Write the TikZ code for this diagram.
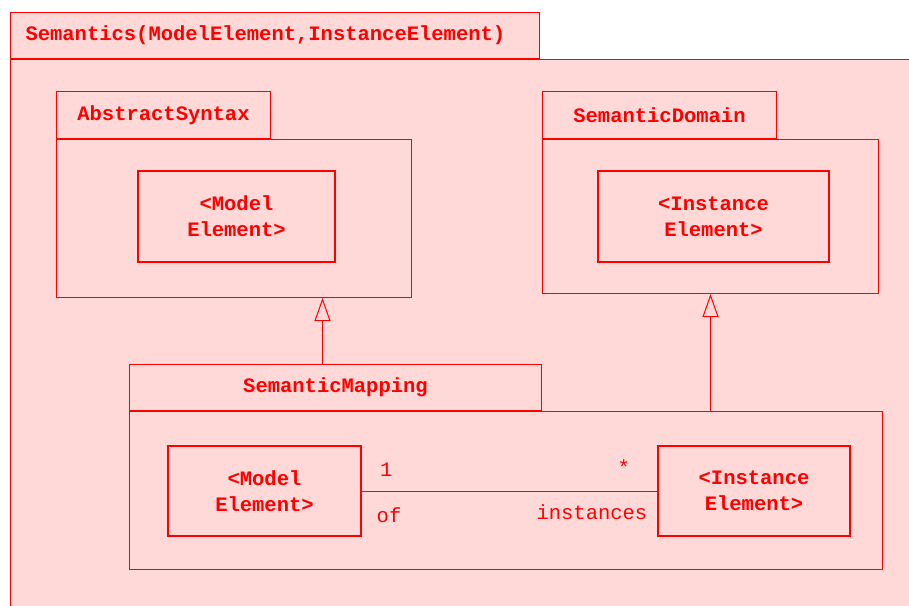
\documentclass[tikz,border=0pt]{standalone}
\usepackage{fontspec}
\setmonofont{Liberation Mono}
\usepackage{tikz}
\usetikzlibrary{positioning}
\usetikzlibrary{arrows.meta}
\definecolor{umlred}{HTML}{FF0000}
\definecolor{umlpink}{HTML}{FFD8D8}
\newcommand{\umlfont}{\ttfamily\fontsize{20.5}{26}\selectfont}
\tikzstyle{pkgtab} = [rectangle, draw=umlred, fill=umlpink, text=umlred,
    inner sep=0pt, minimum height=47pt, font=\umlfont\bfseries]
\tikzstyle{pkgbody} = [rectangle, draw=umlred, fill=umlpink, inner sep=0pt]
\tikzstyle{elem} = [rectangle, draw=umlred, fill=umlpink, text=umlred, line width=1.4pt,
    align=center, inner sep=0pt, minimum height=91pt, font=\umlfont\bfseries]
\tikzstyle{role} = [inner sep=0pt, text=umlred, font=\umlfont]
\tikzstyle{gen} = [draw=umlred, -{Triangle[open, length=23pt, width=16pt]}]
\tikzstyle{assoc} = [draw=umlred]

\begin{document}
\begin{tikzpicture}[x=1pt, y=-1pt, line width=1pt]
    \path[use as bounding box, clip] (0,0) rectangle (909,605);
        % Nodes
    \node [pkgtab, anchor=north west, minimum height=46pt, text width=499pt,
        inner xsep=15pt, align=left] (semTab) at (10,12) {Semantics(ModelElement,InstanceElement)};
    \node [pkgbody, below right=0pt and 0pt of semTab.south west,
        minimum width=950pt, minimum height=600pt] (semBody) {};
    \node [pkgtab, anchor=north west, minimum width=214pt] (absTab) at (56,91) {AbstractSyntax};
    \node [pkgbody, below right=0pt and 0pt of absTab.south west,
        minimum width=355pt, minimum height=158pt] (absBody) {};
    \node [elem, minimum width=197pt] (absElem) at (236.5,216.5) {<Model\\Element>};
    \node [pkgtab, anchor=north west, minimum width=234pt] (domTab) at (542,91) {SemanticDomain};
    \node [pkgbody, below right=0pt and 0pt of domTab.south west,
        minimum width=336pt, minimum height=154pt] (domBody) {};
    \node [elem, minimum width=231pt] (domElem) at (713.5,216.5) {<Instance\\Element>};
    \node [pkgtab, anchor=north west, minimum width=412pt, minimum height=46pt] (mapTab) at (129,364) {SemanticMapping};
    \node [pkgbody, below right=0pt and 0pt of mapTab.south west,
        minimum width=753pt, minimum height=158pt] (mapBody) {};
    \node [elem, minimum width=193pt, minimum height=90pt] (mapModel) at (264.5,491) {<Model\\Element>};
    \node [elem, minimum width=192pt, minimum height=90pt] (mapInst) at (754,491) {<Instance\\Element>};
    \coordinate [xshift=-13pt] (absFoot) at (mapTab.north);
        % Edges
    \path [gen] (absFoot) -- (absFoot |- absBody.south);
    \path [gen] (domBody.south |- mapBody.north) -- (domBody.south);
    \path [assoc] (mapModel.east) -- (mapInst.west)
        node[role, pos=0, anchor=base west, xshift=18pt, yshift=15pt] {1}
        node[role, pos=0, anchor=base west, xshift=14.5pt, yshift=-31pt] {of}
        node[role, pos=1, anchor=north east, xshift=-27pt, yshift=32pt] {*}
        node[role, pos=1, anchor=base east, xshift=-9.5pt, yshift=-28pt] {instances};
\end{tikzpicture}
\end{document}
